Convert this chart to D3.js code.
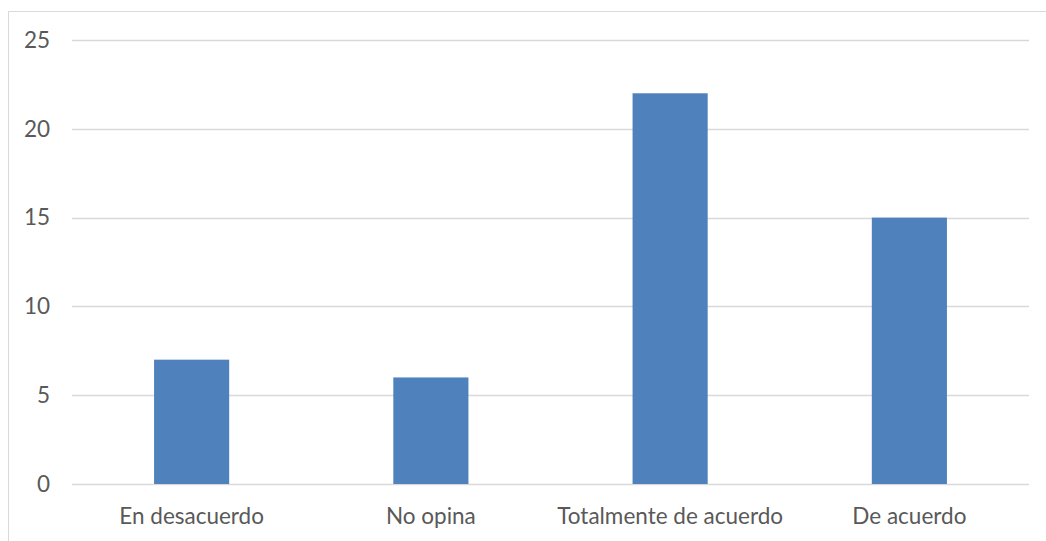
<!DOCTYPE html>
<html>
<head>
<meta charset="utf-8">
<script src="https://cdn.jsdelivr.net/npm/d3@7"></script>
<style>
  body { margin: 0; background: #fff; }
  svg { display: block; font-family: Lato, "Open Sans", sans-serif; }
</style>
</head>
<body>
<svg class="chart"></svg>
<script>
var categories = ["En desacuerdo", "No opina", "Totalmente de acuerdo", "De acuerdo"];
var values = [7, 6, 22, 15];
var yTicks = [0, 5, 10, 15, 20, 25];

function show() {
    'use strict';
    var W = 1046, H = 541;
    var margin = {top: 40, bottom: 57, right: 17, left: 72},
        width = W - margin.left - margin.right,
        height = H - margin.top - margin.bottom;

    var root = d3.select(".chart")
        .attr("width", W)
        .attr("height", H);

    // outer chart frame (runs past the window on the right and bottom)
    root.append("rect")
        .attr("x", 8.5).attr("y", 11.5)
        .attr("width", W).attr("height", H)
        .attr("fill", "none")
        .attr("stroke", "#d9d9d9");

    var svg = root.append("g")
        .attr("transform", "translate(" + margin.left + "," + margin.top + ")");

    var x = d3.scaleBand()
        .domain(categories)
        .range([0, width])
        .paddingInner(0.686)
        .paddingOuter(0.343);

    var y = d3.scaleLinear().domain([0, 25]).range([height, 0]);

    svg.append("g").selectAll("line")
        .data(yTicks)
        .enter().append("line")
        .attr("x1", 0).attr("x2", width)
        .attr("y1", function(d) { return Math.round(y(d)) + 0.5; })
        .attr("y2", function(d) { return Math.round(y(d)) + 0.5; })
        .attr("stroke", "#d9d9d9")
        .attr("stroke-width", 1.3);

    svg.append("g").selectAll("text")
        .data(yTicks)
        .enter().append("text")
        .attr("x", -22)
        .attr("y", function(d) { return y(d); })
        .attr("dy", "0.35em")
        .attr("text-anchor", "end")
        .attr("fill", "#595959")
        .style("font-size", "22.5px")
        .text(function(d) { return d; });

    svg.append("g").selectAll("rect")
        .data(values)
        .enter().append("rect")
        .attr("x", function(d, i) { return x(categories[i]); })
        .attr("y", function(d) { return y(d); })
        .attr("width", x.bandwidth())
        .attr("height", function(d) { return y(0) - y(d); })
        .attr("fill", "#4f81bd");

    svg.append("g").selectAll("text")
        .data(categories)
        .enter().append("text")
        .attr("x", function(d) { return x(d) + x.bandwidth() / 2; })
        .attr("y", height + 32)
        .attr("dy", "0.35em")
        .attr("text-anchor", "middle")
        .attr("fill", "#595959")
        .style("font-size", "22.5px")
        .text(function(d) { return d; });
}
show();
</script>
</body>
</html>
